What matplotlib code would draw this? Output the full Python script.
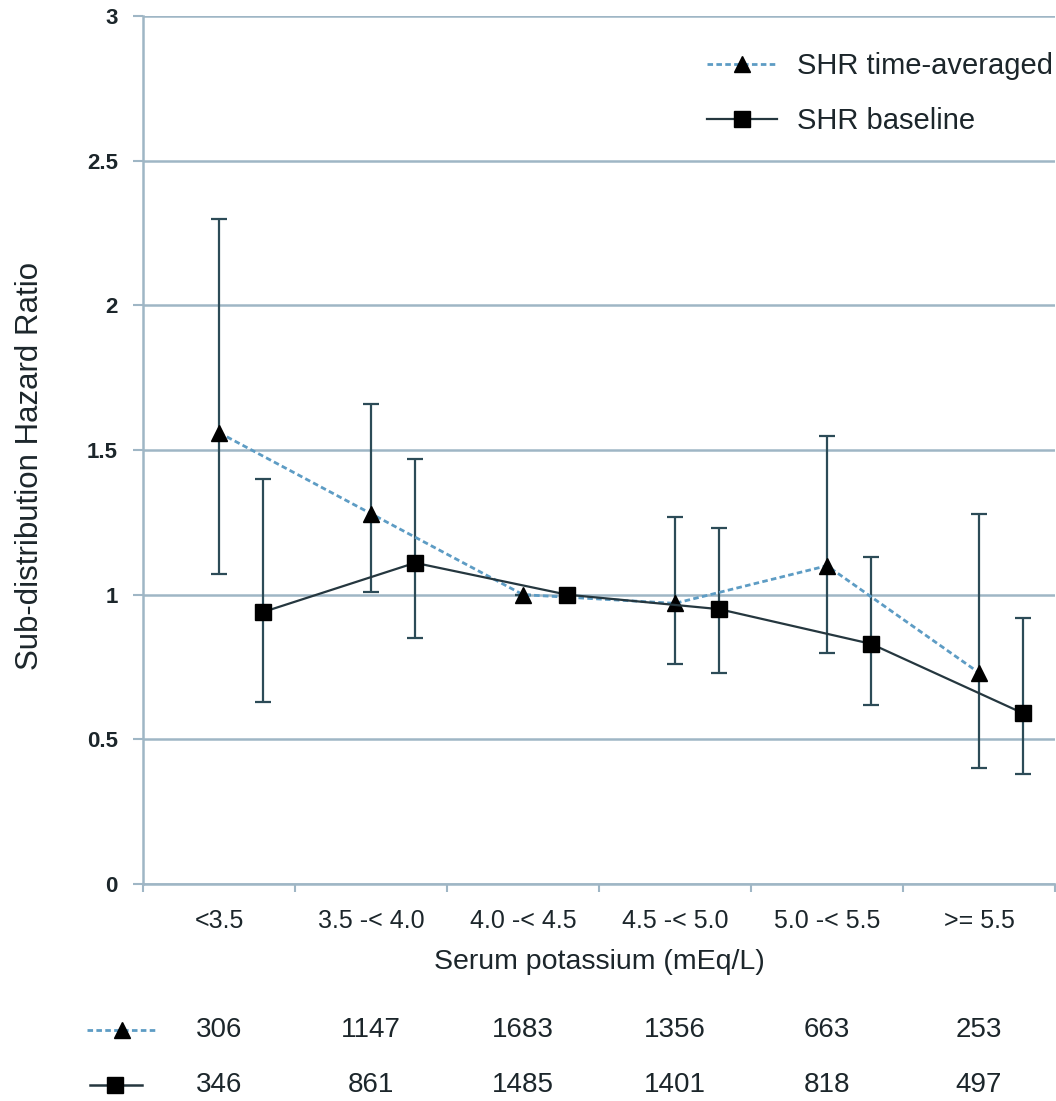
import matplotlib
matplotlib.use("Agg")
import matplotlib.pyplot as plt
import matplotlib.transforms as mtransforms
from matplotlib.lines import Line2D
import numpy as np

plt.rcParams['font.family'] = ['Liberation Sans', 'DejaVu Sans']

categories = ["<3.5", "3.5 -< 4.0", "4.0 -< 4.5", "4.5 -< 5.0", "5.0 -< 5.5", ">= 5.5"]

shr_avg = [1.56, 1.28, 1.00, 0.97, 1.10, 0.73]
shr_avg_lo = [1.07, 1.01, np.nan, 0.76, 0.80, 0.40]
shr_avg_hi = [2.30, 1.66, np.nan, 1.27, 1.55, 1.28]

shr_base = [0.94, 1.11, 1.00, 0.95, 0.83, 0.59]
shr_base_lo = [0.63, 0.85, np.nan, 0.73, 0.62, 0.38]
shr_base_hi = [1.40, 1.47, np.nan, 1.23, 1.13, 0.92]

n_avg = [306, 1147, 1683, 1356, 663, 253]
n_base = [346, 861, 1485, 1401, 818, 497]

yticks = [0, 0.5, 1, 1.5, 2, 2.5, 3]
ytick_labels = ["0", "0.5", "1", "1.5", "2", "2.5", "3"]

GRID = "#9fb6c5"
BAR = "#2c4b57"
DOT = "#5d9cc4"
SOLID = "#25373f"
TXT = "#1c262b"

W, H = 1056, 1101
fig = plt.figure(figsize=(W / 100, H / 100), dpi=100)
ax = fig.add_axes([143 / W, 1 - 884 / H, 912 / W, 868 / H])

x = np.arange(len(categories))
shift = 0.29

def err(v, lo, hi):
    v, lo, hi = map(np.asarray, (v, lo, hi))
    return np.vstack([np.nan_to_num(v - lo), np.nan_to_num(hi - v)])

# confidence intervals
ax.errorbar(x, shr_avg, yerr=err(shr_avg, shr_avg_lo, shr_avg_hi), fmt='none',
            ecolor=BAR, elinewidth=1.6, capsize=6, capthick=1.6, zorder=3)
ax.errorbar(x + shift, shr_base, yerr=err(shr_base, shr_base_lo, shr_base_hi), fmt='none',
            ecolor=BAR, elinewidth=1.6, capsize=6, capthick=1.6, zorder=3)

# point estimates
dotted = (0, (2, 1.2))
ax.plot(x, shr_avg, linestyle=dotted, color=DOT, linewidth=2.0,
        marker='^', markersize=12, markerfacecolor='black', markeredgecolor='black',
        zorder=4, label="SHR time-averaged")
ax.plot(x + shift, shr_base, linestyle='-', color=SOLID, linewidth=1.6,
        marker='s', markersize=12, markerfacecolor='black', markeredgecolor='black',
        zorder=4, label="SHR baseline")

ax.set_xlim(-0.5, 5.5)
ax.set_ylim(0, 3)
ax.set_yticks(yticks)
ax.set_yticklabels(ytick_labels, fontsize=16, fontweight='bold', color=TXT)
ax.yaxis.grid(True, color=GRID, linewidth=1.8)
ax.set_axisbelow(True)

ax.set_xticks(np.arange(-0.5, 6.0, 1.0))
ax.set_xticklabels([])
ax.set_xticks(x, minor=True)
ax.set_xticklabels(categories, minor=True, fontsize=18, color=TXT)
ax.tick_params(axis='x', which='minor', length=0, pad=18)
ax.tick_params(axis='x', which='major', length=6, width=1.5, color=GRID)
ax.tick_params(axis='y', length=7, width=1.5, color=GRID, pad=11)

for s in ['top', 'right']:
    ax.spines[s].set_visible(False)
for s in ['left', 'bottom']:
    ax.spines[s].set_color(GRID)
    ax.spines[s].set_linewidth(1.8)

ax.set_xlabel("Serum potassium (mEq/L)", fontsize=20.5, color=TXT)
ax.xaxis.label.set_va('center')
ax.xaxis.set_label_coords(0.5, (884 - 962) / 868)
ax.set_ylabel("Sub-distribution Hazard Ratio", fontsize=22.5, color=TXT)
ax.yaxis.label.set_va('center')
ax.yaxis.set_label_coords((30 - 143) / 912, (884 - 466) / 868)

leg = fig.legend(*ax.get_legend_handles_labels(), loc='upper left',
                 bbox_to_anchor=(707 / W, 1 - 52 / H), frameon=False,
                 fontsize=21, handlelength=2.4, labelspacing=0.92, handletextpad=0.7,
                 borderpad=0, borderaxespad=0, labelcolor=TXT)

# counts table under the axis
trans = mtransforms.blended_transform_factory(ax.transData, fig.transFigure)
rows = [(n_avg, dotted, DOT, 2.0, '^', 1030, (87, 157), 122),
        (n_base, '-', SOLID, 1.8, 's', 1085, (90, 142), 115)]
for counts, ls, col, lw, mk, ypx, (xa, xb), xm in rows:
    yy = 1 - ypx / H
    for xi, c in zip(x, counts):
        fig.text(xi, yy, str(c), transform=trans, ha='center', va='center',
                 fontsize=20, color=TXT)
    fig.add_artist(Line2D([xa / W, xb / W], [yy, yy], transform=fig.transFigure,
                          linestyle=ls, color=col, linewidth=lw))
    fig.add_artist(Line2D([xm / W], [yy], transform=fig.transFigure, marker=mk,
                          markersize=12, color='black', linestyle='none'))

fig.savefig("out.png", dpi=100)
